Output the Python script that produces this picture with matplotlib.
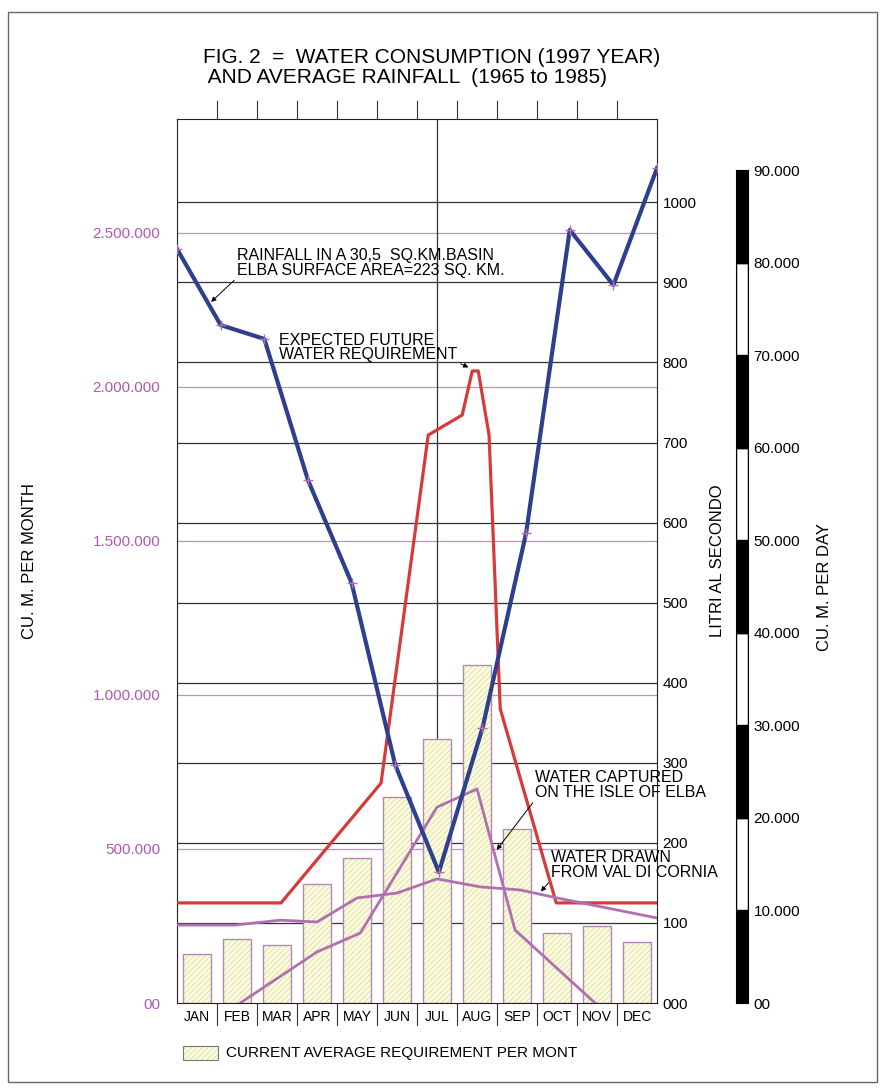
import numpy as np
import matplotlib
matplotlib.rcParams["font.family"] = ["Liberation Sans", "DejaVu Sans"]
matplotlib.rcParams["hatch.linewidth"] = 0.6
import matplotlib.pyplot as plt
from matplotlib.patches import Rectangle

months = ["JAN", "FEB", "MAR", "APR", "MAY", "JUN", "JUL", "AUG", "SEP", "OCT", "NOV", "DEC"]
# current average requirement per month (cu. m.)
current_req = [159e3, 208e3, 188e3, 386e3, 471e3, 669e3, 857e3, 1097e3, 565e3, 227e3, 250e3, 198e3]
# rainfall (cu. m. per month), points spread across the full width
rain = [2448e3, 2201e3, 2156e3, 1698e3, 1364e3, 773e3, 425e3, 893e3, 1526e3, 2510e3, 2331e3, 2711e3]
# expected future water requirement (month position, cu. m.)
future_x = [0, 2.6, 5.1, 6.28, 7.13, 7.38, 7.53, 7.8, 8.08, 9.48, 12]
future_y = [325e3, 325e3, 714e3, 1844e3, 1909e3, 2052e3, 2052e3, 1844e3, 955e3, 325e3, 325e3]
# water captured on Elba
capt_x = [1.58, 3.5, 4.58, 6.5, 7.5, 8.45, 10.45]
capt_y = [0, 166e3, 227e3, 636e3, 695e3, 237e3, 0]
# water drawn from Val di Cornia
drawn_x = [0, 1.45, 2.58, 3.5, 4.5, 5.5, 6.5, 7.58, 8.58, 9.5, 12]
drawn_y = [253e3, 253e3, 269e3, 263e3, 341e3, 357e3, 403e3, 377e3, 367e3, 341e3, 276e3]

left_ticks = [0, 500e3, 1000e3, 1500e3, 2000e3, 2500e3]
left_labels = ["00", "500.000", "1.000.000", "1.500.000", "2.000.000", "2.500.000"]
litri_ticks = list(range(0, 1001, 100))
day_ticks = list(range(0, 90001, 10000))

PURPLE = "#b070b0"
YMAX = 2870e3
LMAX = 1104

fig = plt.figure(figsize=(8.83, 10.92), dpi=100)
fig.patches.append(Rectangle((8 / 883, 10 / 1092), 869 / 883, 1070 / 1092, transform=fig.transFigure,
                             fill=False, edgecolor="#666666", lw=1))

ax = fig.add_axes([0.2005, 0.0815, 0.5436, 0.8095])
ax.set_xlim(0, 12)
ax.set_ylim(0, YMAX)

# litri grid (black) and left grid (purple)
for v in litri_ticks[1:]:
    ax.axhline(v / LMAX * YMAX, color="#333333", lw=0.9, zorder=1)
for v in left_ticks[1:]:
    ax.axhline(v, color="#c98bc9", lw=0.9, zorder=1)
ax.axvline(6.5, color="#333333", lw=0.9, zorder=1)

x = np.arange(12) + 0.5
ax.bar(x, current_req, width=0.7, facecolor="#fcfce2", edgecolor="#dcdc9a", hatch="//////",
       lw=0, zorder=2)
ax.bar(x, current_req, width=0.7, fill=False, edgecolor="#b08ab0", lw=1, zorder=2)

rx = np.linspace(0, 12, 12)
ax.plot(rx, rain, color="#2e3f8f", lw=3, zorder=5)
ax.plot(rx, rain, "+", color=PURPLE, ms=7, zorder=6)
ax.plot(future_x, future_y, color="#d63a3a", lw=2.3, zorder=4)
ax.plot(capt_x, capt_y, color=PURPLE, lw=2, zorder=4)
ax.plot(drawn_x, drawn_y, color=PURPLE, lw=2, zorder=4)

ax.set_yticks(left_ticks)
ax.set_yticklabels(left_labels, color="#b05ab0", fontsize=11)
ax.tick_params(axis="y", length=0, pad=12)
ax.set_xticks(x)
ax.set_xticklabels(months, fontsize=10)
ax.tick_params(axis="x", length=0, pad=5)
ax.set_ylabel("CU. M. PER MONTH", fontsize=12, labelpad=40)
for s in ax.spines.values():
    s.set_color("#222222")

# month separators below, ticks above
for i in range(1, 12):
    ax.plot([i, i], [-0.025 * YMAX, 0], color="#333", lw=0.8, clip_on=False)
    ax.plot([i, i], [YMAX, YMAX * 1.02], color="#333", lw=0.8, clip_on=False)

# litri axis
ax2 = ax.twinx()
ax2.set_ylim(0, LMAX)
ax2.set_yticks(litri_ticks)
ax2.set_yticklabels(["000"] + [str(v) for v in litri_ticks[1:]], fontsize=11)
ax2.tick_params(axis="y", length=0, pad=4)
ax2.set_ylabel("LITRI AL SECONDO", fontsize=12, labelpad=10)
for s in ax2.spines.values():
    s.set_visible(False)

# per-day bar
ax3 = fig.add_axes([0.8335, 0.0815, 0.0136, 0.7628])
ax3.set_xlim(0, 1)
ax3.set_ylim(0, 90000)
for i, v in enumerate(day_ticks[:-1]):
    ax3.bar(0.5, 10000, bottom=v, width=1, color="black" if i % 2 == 0 else "white",
            edgecolor="black", lw=1)
ax3.set_xticks([])
ax3.yaxis.tick_right()
ax3.yaxis.set_label_position("right")
ax3.set_yticks(day_ticks)
ax3.set_yticklabels(["00"] + [f"{v // 1000}.000" for v in day_ticks[1:]], fontsize=11)
ax3.tick_params(axis="y", length=0, pad=4)
ax3.set_ylabel("CU. M. PER DAY", fontsize=12, labelpad=12)

# annotations
ap = dict(arrowstyle="-|>", color="black", lw=0.7, mutation_scale=7, relpos=(0, 0))
kw = dict(fontsize=11.5, linespacing=0.95, va="bottom", zorder=7,
          bbox=dict(boxstyle="square,pad=0.05", fc="none", ec="none"))
ax.annotate("RAINFALL IN A 30,5  SQ.KM.BASIN\nELBA SURFACE AREA=223 SQ. KM.", xy=(0.8, 2270e3),
            xytext=(1.5, 2355e3), arrowprops=ap, **kw)
ax.annotate("EXPECTED FUTURE\nWATER REQUIREMENT", xy=(7.35, 2060e3), xytext=(2.55, 2080e3),
            arrowprops=dict(ap, relpos=(1, 0)), **kw)
ax.annotate("WATER CAPTURED\nON THE ISLE OF ELBA", xy=(7.95, 490e3), xytext=(8.95, 660e3),
            arrowprops=ap, **kw)
ax.annotate("WATER DRAWN\nFROM VAL DI CORNIA", xy=(9.05, 355e3), xytext=(9.35, 400e3),
            arrowprops=ap, **kw)

fig.text(0.23, 0.938, "FIG. 2  =  WATER CONSUMPTION (1997 YEAR)\n AND AVERAGE RAINFALL  (1965 to 1985)",
         ha="left", va="center", fontsize=15, linespacing=1.1)

# legend
fig.patches.append(Rectangle((183 / 883, 1 - 1060 / 1092), 35 / 883, 14 / 1092, transform=fig.transFigure,
                             facecolor="#fcfce2", edgecolor="#dcdc9a", hatch="//////", lw=0))
fig.patches.append(Rectangle((183 / 883, 1 - 1060 / 1092), 35 / 883, 14 / 1092, transform=fig.transFigure,
                             fill=False, edgecolor="#777", lw=0.8))
fig.text(226 / 883, 1 - 1053 / 1092, "CURRENT AVERAGE REQUIREMENT PER MONT", fontsize=11, va="center")

fig.savefig("out.png", dpi=100)
